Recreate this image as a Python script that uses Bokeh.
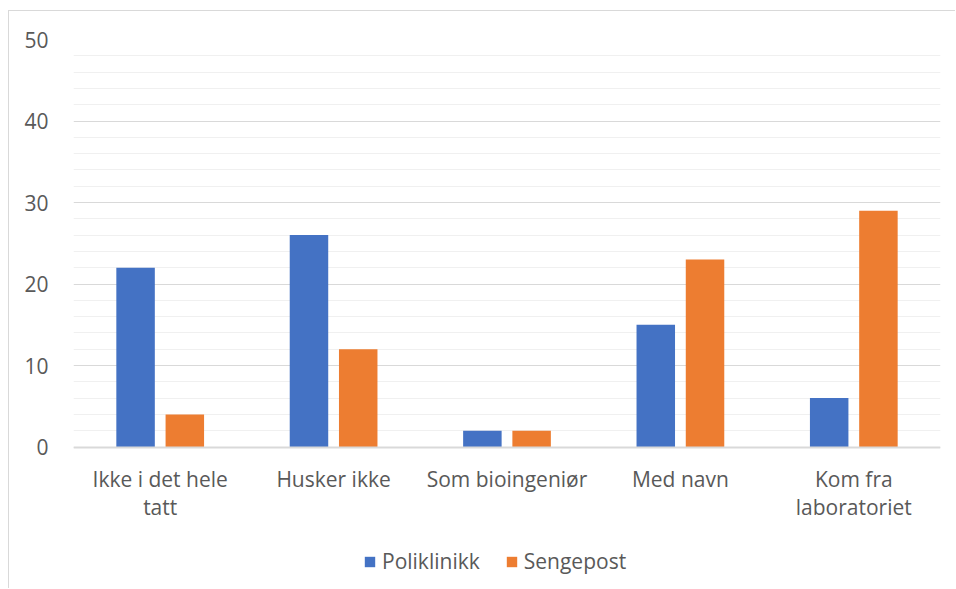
from bokeh.plotting import figure
from bokeh.models import (ColumnDataSource, FactorRange, Range1d, FixedTicker,
                          Legend, LegendItem)
from bokeh.transform import dodge
from bokeh.embed import file_html
from bokeh.resources import INLINE

# Category labels (wrapped as they appear under the axis)
categories = ["Ikke i det hele\ntatt", "Husker ikke", "Som bioingeniør",
              "Med navn", "Kom fra\nlaboratoriet"]
poliklinikk = [22, 26, 2, 15, 6]
sengepost = [4, 12, 2, 23, 29]
series_names = ["Poliklinikk", "Sengepost"]
y_ticks = [0, 10, 20, 30, 40, 50]
y_minor = [v for v in range(0, 51, 2) if v % 10]

BLUE = "#4472C4"
ORANGE = "#ED7D31"
TEXT = "#595959"
FONT = "Open Sans"
FSIZE = "21px"

source = ColumnDataSource(dict(cat=categories, pol=poliklinikk, sen=sengepost))

# The frame reaches down to the bottom edge so that the category axis
# (pinned at y=0) and the legend both live inside it.
p = figure(
    x_range=FactorRange(*categories, range_padding=0),
    y_range=Range1d(-17.48, 50),
    width=947, height=578,
    output_backend="svg", toolbar_location=None,
    min_border_left=64, min_border_right=16,
    min_border_top=28, min_border_bottom=0,
)
p.margin = (10, 0, 0, 8)
p.styles = {"border-top": "1px solid #d9d9d9", "border-left": "1px solid #d9d9d9"}
p.outline_line_color = None
p.background_fill_color = "white"
p.border_fill_color = "white"

r1 = p.vbar(x=dodge("cat", -0.142, range=p.x_range), top="pol", width=0.222,
            source=source, fill_color=BLUE, line_color=None)
r2 = p.vbar(x=dodge("cat", 0.142, range=p.x_range), top="sen", width=0.222,
            source=source, fill_color=ORANGE, line_color=None)

# y axis: plain labels, no line or ticks
p.yaxis.ticker = FixedTicker(ticks=y_ticks, minor_ticks=y_minor)
p.yaxis.axis_line_color = None
p.yaxis.major_tick_line_color = None
p.yaxis.minor_tick_line_color = None
p.yaxis.major_label_standoff = 19
p.yaxis.major_label_text_font = FONT
p.yaxis.major_label_text_font_size = FSIZE
p.yaxis.major_label_text_color = TEXT

# x axis: baseline at zero only
p.xaxis.fixed_location = 0
p.xaxis.axis_line_color = "#d9d9d9"
p.xaxis.axis_line_width = 2
p.xaxis.major_tick_line_color = None
p.xaxis.minor_tick_line_color = None
p.xaxis.major_label_standoff = 12
p.xaxis.major_label_text_font = FONT
p.xaxis.major_label_text_font_size = FSIZE
p.xaxis.major_label_text_color = TEXT
p.xaxis.major_label_text_line_height = 1.0

# gridlines: major every 10, minor every 2
p.xgrid.grid_line_color = None
p.ygrid.ticker = FixedTicker(ticks=y_ticks, minor_ticks=y_minor)
p.ygrid.grid_line_color = "#d9d9d9"
p.ygrid.grid_line_width = 1
p.ygrid.minor_grid_line_color = "#f0f0f0"
p.ygrid.minor_grid_line_width = 1

legend = Legend(
    items=[LegendItem(label=series_names[0], renderers=[r1]),
           LegendItem(label=series_names[1], renderers=[r2])],
    orientation="horizontal",
    location=(290, 14),
    label_text_font=FONT,
    label_text_font_size=FSIZE,
    label_text_color=TEXT,
    label_height=20,
    glyph_width=13, glyph_height=13,
    label_standoff=6, spacing=25,
    padding=0, margin=0,
    border_line_color=None,
    background_fill_alpha=0,
)
p.add_layout(legend, "center")

open("out.html", "w").write(file_html(p, INLINE))
